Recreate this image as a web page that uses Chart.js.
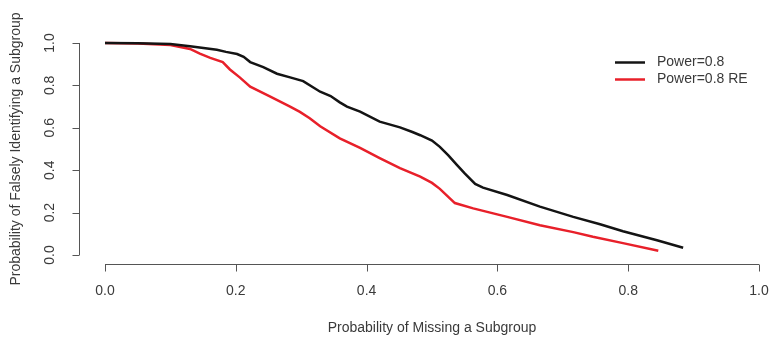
<!DOCTYPE html>
<html>
<head>
<meta charset="utf-8">
<script src="https://cdn.jsdelivr.net/npm/chart.js@4/dist/chart.umd.min.js"></script>
<style>
html,body{margin:0;padding:0;background:#fff;}
#wrap{width:774px;height:339px;position:relative;}
</style>
</head>
<body>
<div id="wrap"><canvas id="c"></canvas></div>
<script>
// Data
const seriesNames = ["Power=0.8", "Power=0.8 RE"];
const blackX = [0.0, 0.05, 0.1, 0.13, 0.171, 0.185, 0.202, 0.212, 0.222, 0.242, 0.263, 0.283, 0.303, 0.329, 0.345, 0.359, 0.37, 0.39, 0.42, 0.451, 0.47, 0.482, 0.5, 0.512, 0.525, 0.538, 0.55, 0.566, 0.578, 0.615, 0.665, 0.716, 0.757, 0.792, 0.844, 0.884];
const blackY = [1.0, 0.999, 0.995, 0.985, 0.968, 0.958, 0.948, 0.935, 0.91, 0.886, 0.855, 0.838, 0.82, 0.77, 0.75, 0.72, 0.7, 0.676, 0.629, 0.602, 0.58, 0.565, 0.54, 0.51, 0.47, 0.425, 0.385, 0.335, 0.318, 0.283, 0.228, 0.18, 0.145, 0.112, 0.07, 0.034];
const redX = [0.0, 0.05, 0.1, 0.13, 0.145, 0.161, 0.18, 0.191, 0.206, 0.222, 0.252, 0.283, 0.298, 0.313, 0.329, 0.359, 0.39, 0.42, 0.451, 0.482, 0.5, 0.512, 0.535, 0.563, 0.615, 0.665, 0.716, 0.746, 0.792, 0.846];
const redY = [1.0, 0.998, 0.99, 0.972, 0.95, 0.93, 0.91, 0.875, 0.838, 0.794, 0.748, 0.70, 0.675, 0.645, 0.607, 0.55, 0.505, 0.457, 0.41, 0.37, 0.34, 0.312, 0.245, 0.22, 0.18, 0.14, 0.108, 0.086, 0.056, 0.02];
const xTicks = [0.0, 0.2, 0.4, 0.6, 0.8, 1.0];
const yTicks = [0.0, 0.2, 0.4, 0.6, 0.8, 1.0];
const xTitle = "Probability of Missing a Subgroup";
const yTitle = "Probability of Falsely Identifying a Subgroup";
const colors = ["#141414", "#e8202a"];

function pts(xs, ys){ return xs.map((x,i)=>({x:x, y:ys[i]})); }

const FONT = '14px "Liberation Sans", Arial, sans-serif';
const TEXT = '#3a3a3a';
const AXIS = '#555';

const rAxes = {
  id: 'rAxes',
  afterDraw(chart){
    const ctx = chart.ctx;
    const xs = chart.scales.x, ys = chart.scales.y;
    ctx.save();
    ctx.strokeStyle = AXIS;
    ctx.lineWidth = 1;
    ctx.fillStyle = TEXT;
    ctx.font = FONT;
    // x axis
    const yAx = Math.round(ys.getPixelForValue(-0.04)) + 0.5;
    ctx.beginPath();
    ctx.moveTo(xs.getPixelForValue(xTicks[0]), yAx);
    ctx.lineTo(xs.getPixelForValue(xTicks[xTicks.length-1]), yAx);
    xTicks.forEach(t=>{
      const px = Math.round(xs.getPixelForValue(t)) + 0.5;
      ctx.moveTo(px, yAx); ctx.lineTo(px, yAx + 7);
    });
    ctx.stroke();
    ctx.textAlign = 'center';
    ctx.textBaseline = 'middle';
    xTicks.forEach(t=>{
      ctx.fillText(t.toFixed(1), xs.getPixelForValue(t), 291);
    });
    // y axis
    const xAx = Math.round(xs.getPixelForValue(-0.04)) + 0.5;
    ctx.beginPath();
    ctx.moveTo(xAx, ys.getPixelForValue(yTicks[0]));
    ctx.lineTo(xAx, ys.getPixelForValue(yTicks[yTicks.length-1]));
    yTicks.forEach(t=>{
      const py = Math.round(ys.getPixelForValue(t)) + 0.5;
      ctx.moveTo(xAx, py); ctx.lineTo(xAx - 7, py);
    });
    ctx.stroke();
    yTicks.forEach(t=>{
      ctx.save();
      ctx.translate(50, ys.getPixelForValue(t));
      ctx.rotate(-Math.PI/2);
      ctx.fillText(t.toFixed(1), 0, 0);
      ctx.restore();
    });
    // titles
    ctx.fillText(xTitle, (xs.getPixelForValue(0) + xs.getPixelForValue(1))/2, 328);
    ctx.save();
    ctx.translate(16, (ys.getPixelForValue(0) + ys.getPixelForValue(1))/2);
    ctx.rotate(-Math.PI/2);
    ctx.fillText(yTitle, 0, 0);
    ctx.restore();
    // legend
    const ly = [62.5, 79.5];
    chart.data.datasets.forEach((ds, i)=>{
      ctx.strokeStyle = ds.borderColor;
      ctx.lineWidth = 2.5;
      ctx.beginPath();
      ctx.moveTo(615, ly[i]); ctx.lineTo(645, ly[i]);
      ctx.stroke();
      ctx.textAlign = 'left';
      ctx.fillStyle = TEXT;
      ctx.fillText(ds.label, 657, ly[i]);
    });
    ctx.restore();
  }
};

new Chart(document.getElementById('c'), {
  type: 'line',
  data: {
    datasets: [
      {label: seriesNames[0], data: pts(blackX, blackY), borderColor: colors[0], borderWidth: 2.5, pointRadius: 0, tension: 0, fill: false},
      {label: seriesNames[1], data: pts(redX, redY), borderColor: colors[1], borderWidth: 2.5, pointRadius: 0, tension: 0, fill: false}
    ]
  },
  options: {
    responsive: true,
    maintainAspectRatio: false,
    animation: false,
    events: [],
    layout: {padding: {left: 78.84, right: 0, top: 34.5, bottom: 75.5}},
    plugins: {legend: {display: false}, tooltip: {enabled: false}},
    scales: {
      x: {type: 'linear', min: -0.04, max: (774 - 105) / 654, display: false},
      y: {type: 'linear', min: -0.04, max: 1.04, display: false}
    }
  },
  plugins: [rAxes]
});
</script>
</body>
</html>
